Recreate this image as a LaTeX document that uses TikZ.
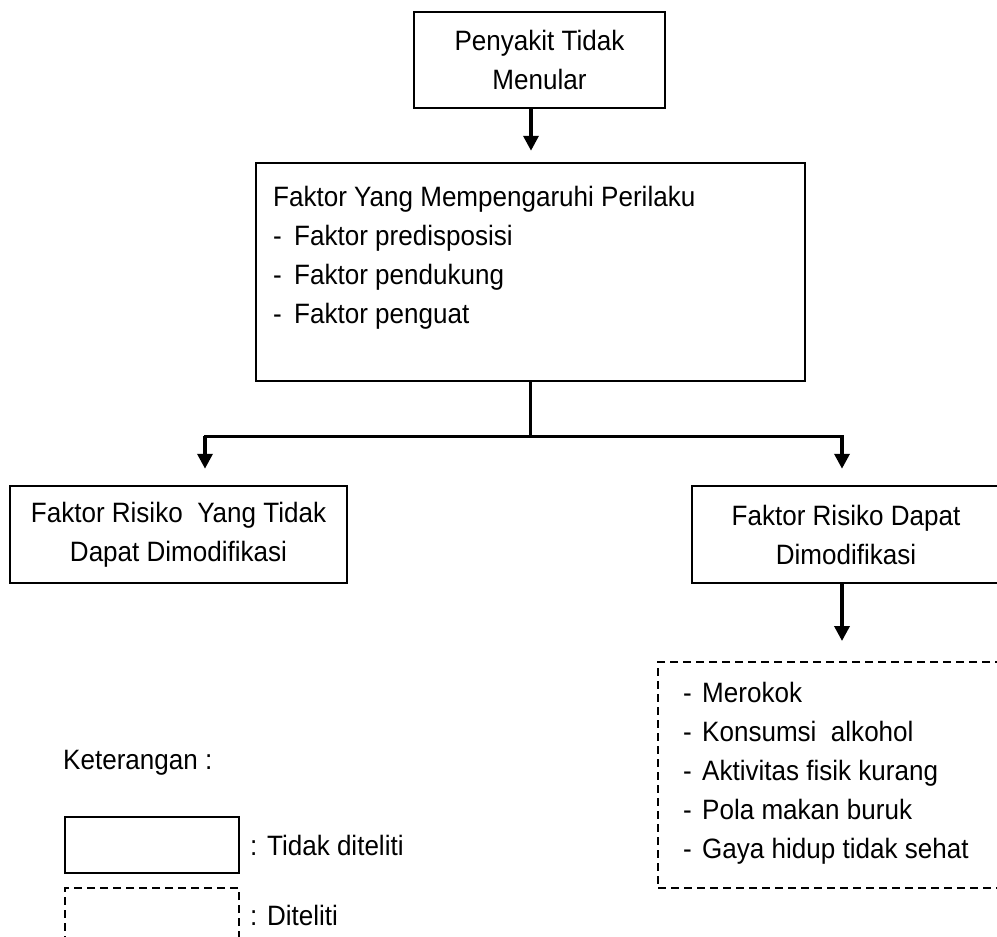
\documentclass[tikz,border=0pt]{standalone}
\usepackage{fontspec}
\setmainfont[FakeStretch=0.93]{Liberation Sans}
\usetikzlibrary{arrows.meta}
\begin{document}
\begin{tikzpicture}[x=1pt,y=-1pt,
  box/.style={draw, line width=2.5pt, inner sep=0pt},
  dbox/.style={draw, line width=2pt, dash pattern=on 8pt off 5pt, inner sep=0pt},
  txt/.style={inner sep=0pt, font=\fontsize{28}{39}\selectfont},
  conn/.style={line width=3pt},
  arr/.style={line width=3.5pt, -{Triangle[length=15pt,width=15pt]}}]
\useasboundingbox (0,0) rectangle (997,937);
\clip (0,0) rectangle (997,937);
% boxes
\node[box, txt, align=center, minimum width=251pt, minimum height=96pt] (top) at (539.5,60) {Penyakit Tidak\\Menular};
\node[box, minimum width=549pt, minimum height=218pt] (fak) at (530.5,272) {};
\node[txt, align=left, anchor=north west] (fakt) at (273,186) {Faktor Yang Mempengaruhi Perilaku\\\makebox[21pt][l]{-}Faktor predisposisi\\\makebox[21pt][l]{-}Faktor pendukung\\\makebox[21pt][l]{-}Faktor penguat};
\node[box, txt, align=center, minimum width=337pt, minimum height=97pt] (lbox) at (178.5,534.5) {Faktor Risiko\ \ Yang Tidak\\Dapat Dimodifikasi};
\node[box, txt, align=center, minimum width=308pt, minimum height=97pt] (rbox) at (846,534.5) {Faktor Risiko Dapat\\Dimodifikasi};
\node[dbox, minimum width=352pt, minimum height=226pt] (dbox) at (834,775) {};
\node[txt, align=left, anchor=north west] (dtxt) at (683,682) {\makebox[19pt][l]{-}Merokok\\\makebox[19pt][l]{-}Konsumsi\ \ alkohol\\\makebox[19pt][l]{-}Aktivitas fisik kurang\\\makebox[19pt][l]{-}Pola makan buruk\\\makebox[19pt][l]{-}Gaya hidup tidak sehat};
% legend
\node[txt, anchor=west] (ket) at (63,763) {Keterangan :};
\node[box, minimum width=174pt, minimum height=56pt] (lgs) at (152,845) {};
\node[dbox, minimum width=174pt, minimum height=72pt] (lgd) at (152,924) {};
\node[txt, anchor=west] (lgst) at (250,845) {: Tidak diteliti};
\node[txt, anchor=west] (lgdt) at (250,915) {: Diteliti};
% connectors
\coordinate (jL) at (205,436);
\coordinate (jR) at (842,436);
\draw[arr, shorten >=11pt] ([xshift=-8.5pt]top.south) -- ([xshift=-8.5pt]top.south |- fak.north);
\draw[conn] (fak.south) -- (fak.south |- jL);
\draw[conn, line cap=rect] (jL) -- (jR);
\draw[arr, shorten >=16pt] (jL) -- (jL |- lbox.north);
\draw[arr, shorten >=16pt] (jR) -- (jR |- rbox.north);
\draw[arr, shorten >=20pt] (rbox.south -| jR) -- (jR |- dbox.north);
\end{tikzpicture}
\end{document}
